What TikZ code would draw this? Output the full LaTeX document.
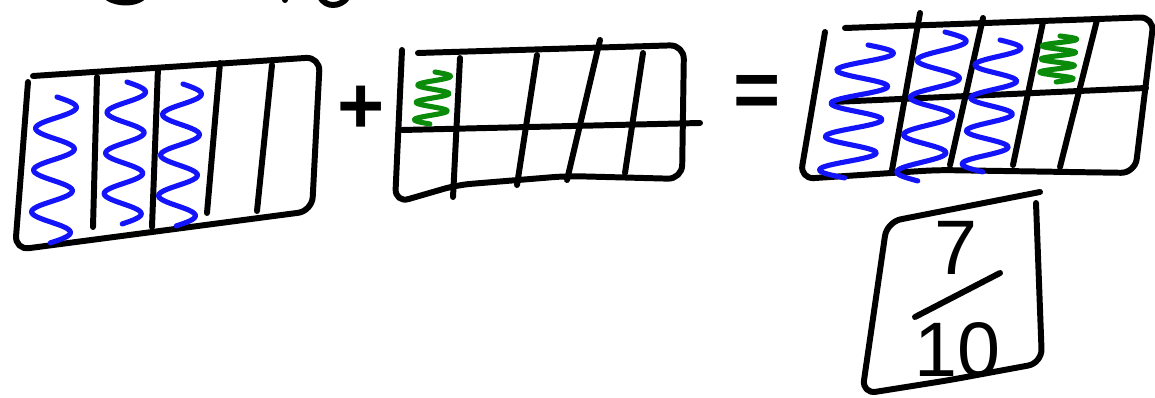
\documentclass[tikz,border=0pt]{standalone}
\usepackage{fontspec}
\setmainfont{Liberation Sans}
\usepackage{xcolor}
\usepackage{tikz}
\definecolor{penblue}{RGB}{20, 20, 250}
\definecolor{pengreen}{RGB}{10, 140, 10}
\tikzset{
  ink/.style={line width=3.4pt, line cap=round, line join=round, black},
  blueink/.style={line width=2.9pt, line cap=round, line join=round, penblue},
  greenink/.style={line width=2.9pt, line cap=round, line join=round, pengreen},
  digit/.style={font=\fontsize{44}{48}\selectfont, inner sep=0pt},
  sign/.style={font=\bfseries\fontsize{46}{50}\selectfont, inner sep=0pt}
}
% squiggle: style, top x/y, bottom x/y, amplitude, half waves
\newcommand{\squig}[7]{%
  \draw[#1] plot[domain=0:1, samples=90, smooth]
    ({#2+(#4-#2)*\x+#6*sin(#7*180*\x)}, {#3+(#5-#3)*\x});}

\begin{document}
\begin{tikzpicture}[x=0.02cm,y=-0.02cm]
\useasboundingbox (0,0) rectangle (1155,398);
% Bits of writing cut off at the top
\draw[ink] (108,-2) .. controls (118,4) and (134,4) .. (142,-2);
\fill (285,0) circle (3);
\draw[ink] (320,-3) .. controls (326,8) and (340,7) .. (347,-2);

% Left box: 3/5
\draw[ink, rounded corners=8pt] (33,76) -- (320,57) -- (312,211) -- (15,250) -- (28,82);
\foreach \a/\b/\c/\d in {97/77/93/227, 158/68/152/227, 220/63/207/213, 272/65/257/211}
  \draw[ink] (\a,\b) -- (\c,\d);
\squig{blueink}{57}{97}{50}{243}{20}{7}
\squig{blueink}{127}{82}{122}{224}{19}{7}
\squig{blueink}{183}{84}{176}{226}{19}{7}

% Plus
\node[sign] (plus) at (361,110) {+};

% Middle box: 1/10
\draw[ink, rounded corners=8pt] (418,53) -- (684,45) -- (682,179) -- (567,176) -- (457,185) -- (395,203) -- (402,50);
\draw[ink] (402,130) -- (700,123);
\foreach \a/\b/\c/\d in {460/58/453/197, 537/55/517/185, 600/40/567/180, 643/53/625/173}
  \draw[ink] (\a,\b) -- (\c,\d);
\squig{greenink}{435}{72}{430}{124}{16}{6}

% Equals
\node[sign] (equals) at (757,96) {=};

% Right box: 7/10
\draw[ink, rounded corners=8pt] (845,28) -- (1154,17) -- (1135,173) -- (937,170) -- (800,179) -- (825,32);
\draw[ink] (833,102) -- (1146,88);
\foreach \a/\b/\c/\d in {920/13/892/170, 983/18/950/165, 1043/22/1013/165, 1097/20/1060/167}
  \draw[ink] (\a,\b) -- (\c,\d);
\squig{blueink}{868}{45}{845}{178}{27}{8}
\squig{blueink}{945}{32}{918}{181}{23}{8}
\squig{blueink}{1000}{40}{983}{172}{22}{8}
\squig{greenink}{1060}{36}{1056}{82}{17}{7}

% Answer
\draw[ink, rounded corners=8pt] (1040,192) -- (887,222) -- (862,394) -- (950,380) -- (1042,363) -- (1036,203);
\node[digit] (num) at (956,248) {7};
\draw[ink] (915,317) -- (1000,273);
\node[digit] (den) at (957,350) {10};
\end{tikzpicture}
\end{document}
